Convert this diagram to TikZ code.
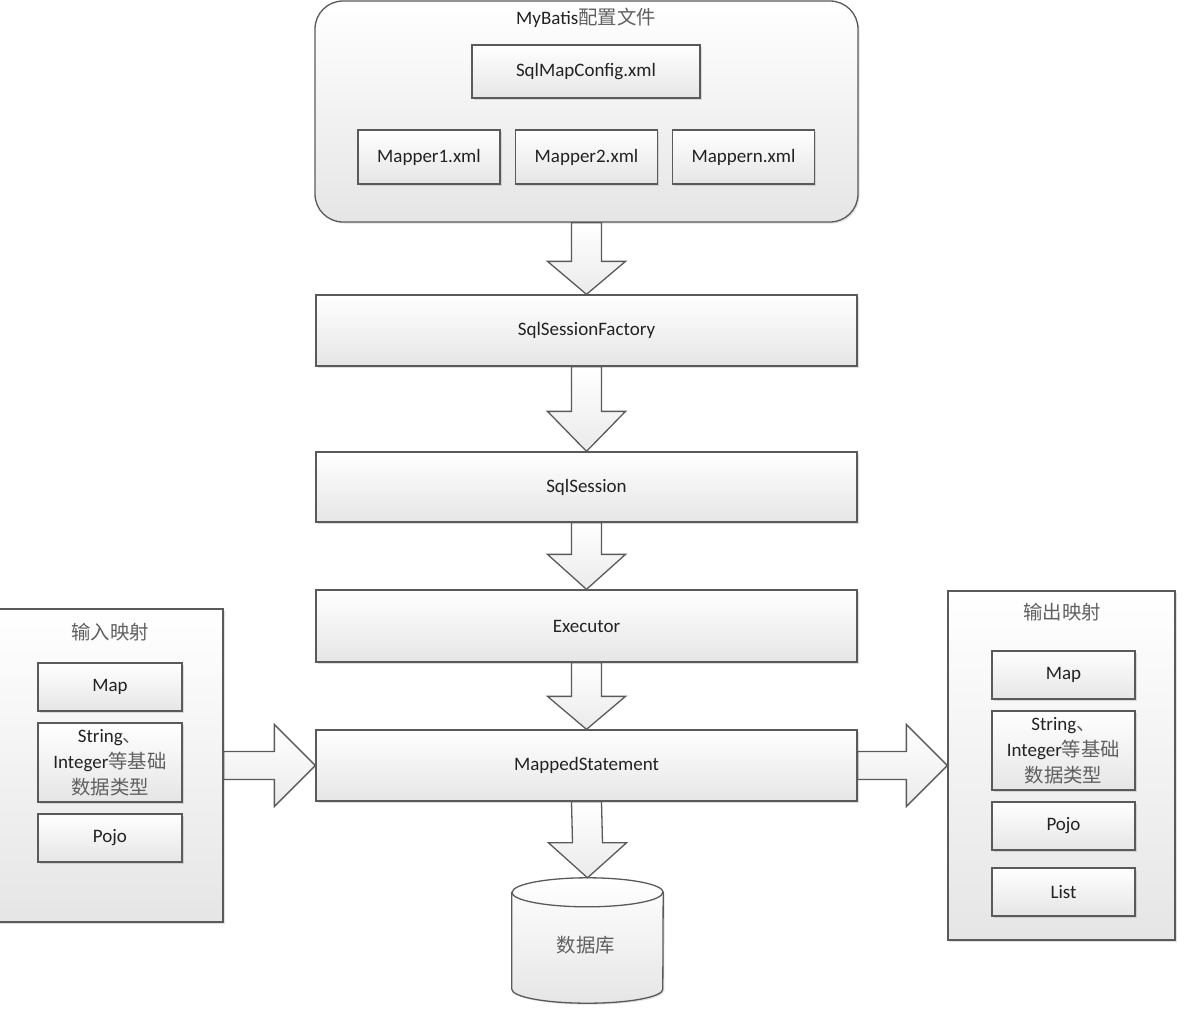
\documentclass[tikz,border=0pt]{standalone}
\usepackage{fontspec}
\setmainfont{Carlito}
\newfontfamily\cjk[Scale=1.02]{Noto Sans CJK SC}
\usetikzlibrary{calc,shadows}
\definecolor{edge}{HTML}{5A5A5A}
\definecolor{txt}{HTML}{222222}
\definecolor{cjkc}{HTML}{606060}
\newcommand{\zh}[1]{{\cjk\color{cjkc}#1}}
\tikzset{
  base/.style={draw=edge, line width=1.3pt, top color=white, bottom color=black!10,
    drop shadow={shadow xshift=1.5pt, shadow yshift=-1.5pt, opacity=0.25}},
  box/.style={base, rectangle, inner sep=0pt, font=\fontsize{19}{26}\selectfont,
    text=txt, align=center},
  label/.style={font=\fontsize{19}{26}\selectfont, text=txt, inner sep=0pt},
  fat/.style={draw=edge, line width=1.3pt, top color=white, bottom color=black!8},
}
\newcommand{\fatdown}[3]{%
  \path[fat] ($(#1.south)+(-15,0)$) -- ($(#2.north)+(-15,-#3)$) -- ($(#2.north)+(-39,-#3)$)
    -- (#2.north) -- ($(#2.north)+(39,-#3)$) -- ($(#2.north)+(15,-#3)$)
    -- ($(#1.south)+(15,0)$) -- cycle;}
\newcommand{\fatright}[3]{%
  \path[fat] ($(#1.east)+(0,-14)$) -- ($(#2.west)+(-#3,-14)$) -- ($(#2.west)+(-#3,-41)$)
    -- (#2.west) -- ($(#2.west)+(-#3,41)$) -- ($(#2.west)+(-#3,14)$)
    -- ($(#1.east)+(0,14)$) -- cycle;}
\begin{document}
\begin{tikzpicture}[x=1pt,y=-1pt]
\useasboundingbox (0,0) rectangle (1200,1010);
% config container
\node[base, rounded corners=28pt, minimum width=543, minimum height=221, inner sep=0pt] (cfg) at (586.5,111.5) {};
\node[label] (cfgtitle) at (586,18) {MyBatis\zh{配置文件}};
\node[box, minimum width=228, minimum height=53] (smc) at (586,71.5) {SqlMapConfig.xml};
\node[box, minimum width=142, minimum height=54] (m1) at (429,157) {Mapper1.xml};
\node[box, minimum width=142, minimum height=54] (m2) at (586.5,157) {Mapper2.xml};
\node[box, minimum width=142, minimum height=54] (mn) at (743.5,157) {Mappern.xml};
% main chain
\node[box, minimum width=541, minimum height=71] (ssf) at (586.5,330.5) {SqlSessionFactory};
\node[box, minimum width=541, minimum height=70] (ss) at (586.5,487) {SqlSession};
\node[box, minimum width=541, minimum height=72] (ex) at (586.5,626) {Executor};
\node[box, minimum width=541, minimum height=71] (ms) at (586.5,765.5) {MappedStatement};
% database
\node[minimum width=151, minimum height=125, inner sep=0pt] (db) at (587.5,940.5) {};
\path[base] ($(db.north west)+(0,14.5)$) -- ($(db.south west)+(0,-14)$)
  arc[start angle=180, end angle=360, x radius=75.5pt, y radius=14pt]
  -- ($(db.north east)+(0,14.5)$)
  arc[start angle=0, end angle=180, x radius=75.5pt, y radius=14.5pt] -- cycle;
\draw[draw=edge, line width=1.3pt] ($(db.north west)+(0,14.5)$)
  arc[start angle=180, end angle=360, x radius=75.5pt, y radius=14.5pt];
\node[label] (dbt) at (586,945) {\zh{数据库}};
% input mapping
\node[base, rectangle, minimum width=230, minimum height=313, inner sep=0pt] (lin) at (108,765.5) {};
\node[label] (lint) at (110,632) {\zh{输入映射}};
\node[box, minimum width=144, minimum height=48] (lmap) at (110,687) {Map};
\node[box, minimum width=144, minimum height=79] (lstr) at (110,762.5) {String\zh{、}\\Integer\zh{等基础}\\\zh{数据类型}};
\node[box, minimum width=144, minimum height=48] (lpojo) at (110,838) {Pojo};
% output mapping
\node[base, rectangle, minimum width=227, minimum height=349, inner sep=0pt] (rout) at (1061.5,765.5) {};
\node[label] (routt) at (1062,612) {\zh{输出映射}};
\node[box, minimum width=143, minimum height=48] (rmap) at (1063.5,675) {Map};
\node[box, minimum width=143, minimum height=79] (rstr) at (1063.5,750.5) {String\zh{、}\\Integer\zh{等基础}\\\zh{数据类型}};
\node[box, minimum width=143, minimum height=48] (rpojo) at (1063.5,826) {Pojo};
\node[box, minimum width=143, minimum height=48] (rlist) at (1063.5,892) {List};
% block arrows
\fatdown{cfg}{ssf}{33}
\fatdown{ssf}{ss}{40}
\fatdown{ss}{ex}{35}
\fatdown{ex}{ms}{33}
\fatdown{ms}{db}{35}
\fatright{lin}{ms}{41}
\fatright{ms}{rout}{41}
\end{tikzpicture}
\end{document}
